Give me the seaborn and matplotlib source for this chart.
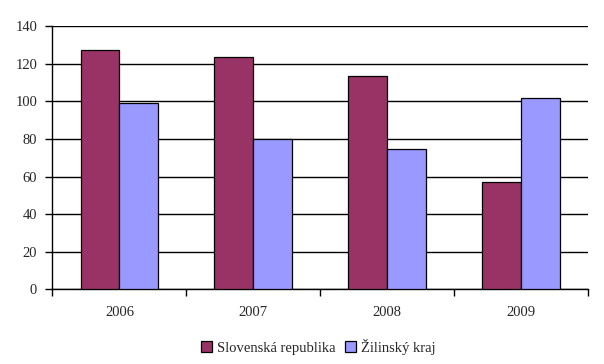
import matplotlib
matplotlib.use("Agg")
import matplotlib.pyplot as plt
import seaborn as sns
import pandas as pd
from matplotlib.patches import Patch

years = ["2006", "2007", "2008", "2009"]
series_names = ["Slovenská republika", "Žilinský kraj"]
slovensko = [127, 123.5, 113.5, 57]
zilina = [99, 80, 74.5, 101.5]
colors = ["#993366", "#9999FF"]
yticks = [0, 20, 40, 60, 80, 100, 120, 140]

df = pd.DataFrame({
    "year": years * 2,
    "value": slovensko + zilina,
    "series": [series_names[0]] * len(years) + [series_names[1]] * len(years),
})

sns.set_style("white")
plt.rcParams["font.family"] = ["Liberation Serif", "DejaVu Serif"]

fig = plt.figure(figsize=(6.04, 3.64), dpi=100)
ax = fig.add_axes([0.0869, 0.2047, 0.9735 - 0.0869, 0.9286 - 0.2047])

sns.barplot(data=df, x="year", y="value", hue="series", palette=colors,
            width=0.58, gap=0, edgecolor="black", linewidth=0.9,
            saturation=1, ax=ax, legend=False, zorder=3)

fs = 10.5
ax.set_ylim(0, 140)
ax.set_xlim(-0.5, 3.5)
ax.set_yticks(yticks)
ax.set_yticklabels([str(t) for t in yticks], fontsize=fs)
ax.yaxis.grid(True, color="black", linewidth=1)
ax.set_axisbelow(True)
ax.set_xlabel("")
ax.set_ylabel("")

ax.set_xticks([-0.5, 0.5, 1.5, 2.5, 3.5], minor=False)
ax.set_xticklabels([""] * 5)
ax.set_xticks([0, 1, 2, 3], minor=True)
ax.set_xticklabels(years, minor=True, fontsize=fs)
ax.tick_params(axis="x", which="major", direction="out", length=5, width=1, color="black", bottom=True)
ax.tick_params(axis="x", which="minor", length=0, pad=12)
ax.tick_params(axis="y", direction="out", length=5, width=1, color="black", left=True, pad=6)

for s in ["top", "right"]:
    ax.spines[s].set_visible(False)
for s in ["left", "bottom"]:
    ax.spines[s].set_color("black")
    ax.spines[s].set_linewidth(1)

handles = [Patch(facecolor=c, edgecolor="black", linewidth=0.9) for c in colors]
fig.legend(handles, series_names, loc="center", bbox_to_anchor=(0.527, 0.048),
           ncol=2, frameon=False, fontsize=fs, handlelength=0.75, handleheight=0.75,
           handletextpad=0.35, columnspacing=0.6)

fig.savefig("out.png", dpi=100)
